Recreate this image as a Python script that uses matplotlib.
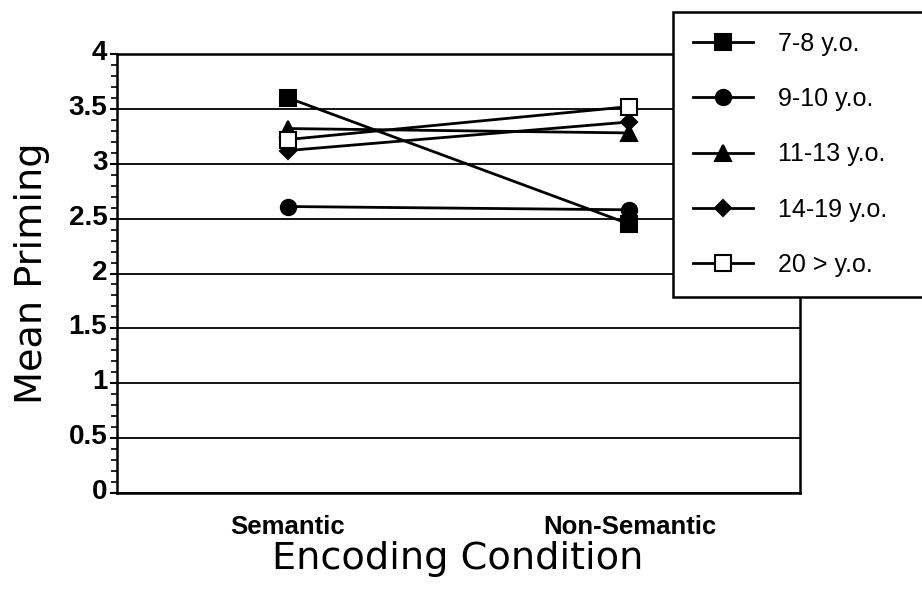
import matplotlib
matplotlib.use('Agg')
import numpy as np
from matplotlib import pyplot as plt
from matplotlib.ticker import MultipleLocator
from matplotlib.transforms import ScaledTranslation

# data
conditions = ['Semantic', 'Non-Semantic']
groups = ['7-8 y.o.', '9-10 y.o.', '11-13 y.o.', '14-19 y.o.', '20 > y.o.']
priming_7_8 = [3.60, 2.45]
priming_9_10 = [2.61, 2.58]
priming_11_13 = [3.32, 3.28]
priming_14_19 = [3.12, 3.38]
priming_20 = [3.22, 3.52]
yticks = [0, 0.5, 1, 1.5, 2, 2.5, 3, 3.5, 4]
ytick_labels = ['0', '0.5', '1', '1.5', '2', '2.5', '3', '3.5', '4']

series = [priming_7_8, priming_9_10, priming_11_13, priming_14_19, priming_20]
markers = ['s', 'o', '^', 'D', 's']
fills = ['black', 'black', 'black', 'black', 'white']
msizes = [11, 11, 12, 8, 11]

plt.rcParams['font.family'] = ['Liberation Sans', 'DejaVu Sans']

fig = plt.figure(figsize=(9.22, 5.92), dpi=100)
ax = fig.add_axes([0.127, 0.167, 0.741, 0.742])

xpos = [0.5, 1.5]
for vals, m, fc, ms, lab in zip(series, markers, fills, msizes, groups):
    ax.plot(xpos, vals, color='black', lw=2, marker=m, markersize=ms,
            markerfacecolor=fc, markeredgecolor='black', markeredgewidth=1.5,
            label=lab, zorder=3)

ax.set_xlim(0, 2)
ax.set_ylim(0, 4)
ax.set_xticks(xpos)
ax.set_xticklabels(conditions, fontsize=18.5, fontweight='bold')
ax.tick_params(axis='x', length=0, pad=16)
ax.set_yticks(yticks)
ax.set_yticklabels(ytick_labels, fontsize=20, fontweight='bold')
ax.yaxis.set_minor_locator(MultipleLocator(0.1))
ax.tick_params(axis='y', which='major', direction='out', length=5, width=1.5, pad=2)
ax.tick_params(axis='y', which='minor', direction='out', length=4, width=1.2)
ax.yaxis.grid(True, which='major', color='black', lw=1.3)
for s in ax.spines.values():
    s.set_linewidth(1.8)

# labels sit a little above their grid line in the original
shift = ScaledTranslation(0, 4 / 100, fig.dpi_scale_trans)
for lbl in ax.get_yticklabels():
    lbl.set_transform(lbl.get_transform() + shift)

ax.set_ylabel('Mean Priming', fontsize=27.5, family='DejaVu Sans')
ax.yaxis.set_label_coords(-0.098, 0.5)
ax.set_xlabel('Encoding Condition', fontsize=27.5, family='DejaVu Sans')
ax.xaxis.set_label_coords(0.499, -0.108)

leg = fig.legend(loc='upper left', bbox_to_anchor=(0.730, 0.505, 0.35, 0.475),
                 mode='expand', fontsize=18, borderaxespad=0,
                 handlelength=2.4, handletextpad=1.0, labelspacing=1.25,
                 borderpad=0.8, fancybox=False, framealpha=1, edgecolor='black')
leg.get_frame().set_linewidth(1.8)

fig.savefig('out.png', dpi=100)
